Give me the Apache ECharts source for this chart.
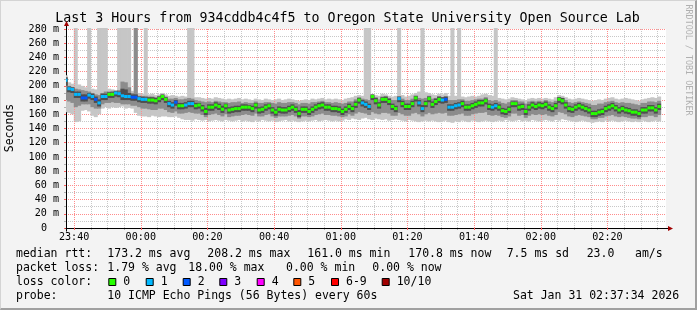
<!DOCTYPE html>
<html><head><meta charset="utf-8">
<script src="https://cdn.jsdelivr.net/npm/echarts@6/dist/echarts.min.js"></script>
<style>
html,body{margin:0;padding:0;background:#f3f3f3;}
#wrap{position:relative;width:697px;height:310px;}
#c{position:absolute;left:0;top:0;width:697px;height:310px;}
#bd{position:absolute;left:0;top:0;width:697px;height:310px;box-sizing:border-box;border-top:1px solid #d4d4d4;border-left:1px solid #d4d4d4;border-right:2px solid #a0a0a0;border-bottom:2px solid #a0a0a0;pointer-events:none;}
</style></head><body><div id="wrap"><div id="c"></div><div id="bd"></div></div>
<script>
// ---- time frame ----
const startTime = new Date(2026,0,30,23,37,34).getTime();
const endTime   = new Date(2026,0,31,2,37,34).getTime();
const firstStepEnd = new Date(2026,0,30,23,38,0).getTime();
const STEP = 60000;
// x tick labels (every 20 min)
const xTickLabels = ['23:40','00:00','00:20','00:40','01:00','01:20','01:40','02:00','02:20'];

// ---- median rtt (ms) per 60 s step ----
const median = [208,196,195,188,188,183,183,187,185,181,
176,185,185,188,188,190,189,186,185,185,
184,184,182,181,181,180,180,179,182,185,
181,175,173,177,172,172,173,175,175,172,
173,169,164,170,170,173,171,167,172,166,
167,168,168,170,170,170,168,173,166,167,
170,172,166,163,167,166,166,168,170,167,
161,167,167,164,167,170,172,173,170,170,
168,168,167,164,167,171,168,174,180,176,
174,171,185,179,173,181,181,178,171,168,
182,175,171,171,175,183,176,168,175,182,
174,178,181,180,181,170,170,172,173,175,
170,170,172,174,176,176,179,171,170,172,
170,165,164,167,175,175,170,171,164,170,
173,171,173,172,174,170,168,172,181,179,
173,168,167,170,172,170,168,166,161,161,
163,164,168,170,172,169,166,168,166,165,
163,163,161,166,166,169,169,166,171];

// ---- lost pings (of 10) per step ----
const loss = [1,1,1,1,1,2,2,1,1,2,
1,1,1,0,0,1,1,1,1,1,
2,2,1,1,1,0,0,0,0,0,
0,1,1,2,0,0,1,1,1,0,
0,0,0,0,0,0,0,0,0,0,
0,0,0,0,0,0,0,0,0,0,
0,0,0,0,0,0,0,0,0,0,
0,0,0,0,0,0,0,0,0,0,
0,0,0,0,0,0,0,0,0,1,
1,1,0,0,0,0,0,0,0,0,
1,0,0,0,0,0,1,1,0,0,
0,0,0,1,2,1,1,1,1,0,
0,0,0,0,0,0,0,0,1,1,
0,0,0,0,0,0,0,0,0,0,
0,0,0,0,0,0,0,0,0,0,
0,0,0,0,0,0,0,0,0,0,
0,0,0,0,0,0,0,0,0,0,
0,0,0,0,0,0,0,0,0];

// ---- smoke: outer band (min .. max ping) ----
const smokeOuterLo = [163,162,160,149,150,165,166,164,158,156,
160,168,170,168,170,169,170,171,168,169,
168,162,158,157,157,156,158,157,156,157,
157,156,156,157,155,153,152,152,151,153,
152,151,152,150,151,152,151,150,152,151,
150,151,152,150,151,150,149,151,150,152,
151,150,151,149,150,151,152,150,151,150,
149,150,151,150,151,152,150,151,152,151,
150,151,150,151,153,152,154,153,152,154,
155,153,152,154,153,152,153,151,152,153,
152,151,150,152,151,150,149,150,151,150,
151,150,149,150,151,149,148,150,149,151,
150,149,151,150,149,150,151,150,149,150,
151,150,152,151,150,151,152,150,151,150,
152,151,150,151,152,151,150,152,151,153,
152,151,150,149,150,151,150,149,148,149,
150,149,151,150,151,150,149,150,151,150,
149,150,149,151,150,149,150,151,150];
const smokeOuterHi = [215,205,203,300,202,200,198,300,196,195,
300,300,300,196,195,194,300,300,300,300,
193,300,190,189,300,188,189,187,188,190,
188,186,187,186,185,186,185,300,300,184,
184,183,182,183,182,184,183,182,181,182,
181,182,183,181,182,181,180,182,181,180,
182,181,180,181,182,180,181,182,181,180,
179,180,181,180,182,181,182,183,181,182,
181,182,181,180,182,183,184,186,187,186,
300,300,188,187,186,189,188,186,185,186,
300,187,185,186,188,190,192,300,191,190,
188,187,189,188,190,186,300,186,300,185,
184,185,186,185,186,188,189,187,186,300,
183,182,181,182,184,183,182,181,180,182,
183,182,183,182,183,182,181,184,187,186,
184,182,181,182,183,182,181,180,179,180,
181,180,182,183,184,182,181,182,183,182,
181,180,179,181,182,183,184,183,185];
// ---- smoke: middle band ----
const smokeMidLo = [180,178,176,170,172,174,174,174,170,168,
168,174,176,176,177,176,176,174,174,174,
172,172,170,168,168,167,166,166,168,168,
166,163,162,164,161,161,162,163,162,161,
161,159,156,159,160,161,159,157,160,156,
157,158,158,159,160,159,158,161,157,157,
159,160,157,155,157,157,157,158,159,157,
154,157,157,156,157,159,160,161,159,159,
158,158,157,156,157,160,158,161,163,162,
161,159,163,161,160,162,162,161,158,158,
162,160,158,158,161,162,160,157,160,162,
160,161,162,161,162,158,158,159,160,161,
158,158,160,161,162,162,163,159,158,159,
158,156,155,157,161,161,158,159,155,158,
160,159,160,159,160,158,157,159,163,162,
160,157,156,158,159,158,157,156,153,153,
155,155,157,158,159,157,156,157,156,155,
154,154,153,156,156,158,158,156,159];
const smokeMidHi = [210,200,198,196,195,194,193,192,190,188,
187,190,192,192,193,192,194,206,205,198,
190,300,186,185,186,185,185,184,186,187,
185,182,182,183,181,181,182,183,182,180,
179,178,177,178,177,179,178,177,177,176,
177,177,178,176,177,176,176,178,176,176,
177,177,176,175,177,176,176,177,177,176,
174,176,176,175,177,177,178,179,177,177,
176,177,176,175,176,178,178,181,184,182,
181,180,186,184,181,185,185,183,180,180,
185,182,180,180,182,186,183,182,183,186,
182,183,185,184,185,180,180,180,181,181,
179,179,180,181,182,182,184,180,179,180,
178,176,175,177,180,180,178,178,175,178,
179,178,179,178,180,178,177,179,184,183,
180,177,176,177,178,177,176,175,173,173,
175,175,177,178,179,177,176,177,176,176,
175,174,173,176,176,178,178,177,179];
// ---- smoke: inner band ----
const smokeInLo = [200,191,190,183,183,178,178,182,180,176,
171,180,180,183,183,185,184,180,180,180,
179,179,177,176,176,175,175,174,177,180,
176,170,168,172,167,167,168,170,170,167,
168,164,159,165,165,168,166,162,167,161,
162,163,163,165,165,165,163,168,161,162,
165,167,161,158,162,161,161,163,165,162,
156,162,162,159,162,165,167,168,165,165,
163,163,162,159,162,166,163,169,175,171,
169,166,180,174,168,176,176,173,166,163,
177,170,166,166,170,178,171,163,170,177,
169,173,176,175,176,165,165,167,168,170,
165,165,167,169,171,171,174,166,165,167,
165,160,159,162,170,170,165,166,159,165,
168,166,168,167,169,165,163,167,176,174,
168,163,162,165,167,165,163,161,156,156,
158,159,163,165,167,164,161,163,161,160,
158,158,156,161,161,164,164,161,166];
const smokeInHi = [212,199,198,192,192,188,188,190,189,185,
181,189,189,191,191,193,192,196,195,190,
188,188,185,185,184,184,184,183,185,188,
184,179,177,180,176,176,177,179,179,176,
176,173,169,174,174,177,175,172,175,170,
171,172,172,174,174,173,172,176,170,171,
174,175,170,167,171,170,170,172,174,171,
166,171,171,168,171,174,176,177,174,174,
172,172,171,168,171,175,172,178,183,180,
178,175,188,183,177,184,185,182,175,172,
185,179,175,175,179,186,180,173,179,185,
178,182,185,184,185,174,174,176,177,179,
174,174,176,178,180,180,182,175,174,176,
174,169,168,171,178,178,174,175,168,174,
177,175,177,176,178,174,172,176,184,183,
177,172,171,174,176,174,172,170,165,165,
167,168,172,174,176,173,170,172,170,169,
167,167,165,170,170,173,173,170,175];

// ---- legend / text ----
const lossLabels = ['0','1','2','3','4','5','6-9','10/10'];
const lossColors = ['#26ff00','#00b8ff','#0059ff','#7e00ff','#ff00ff','#ff5500','#ff0000','#a10000'];
const rttStats = ['173.2 ms avg','208.2 ms max','161.0 ms min','170.8 ms now','7.5 ms sd','23.0','am/s'];
const lossStats = ['1.79 % avg','18.00 % max','0.00 % min','0.00 % now'];
const titleText = 'Last 3 Hours from 934cddb4c4f5 to Oregon State University Open Source Lab';
const probeText = '10 ICMP Echo Pings (56 Bytes) every 60s';
const dateText = 'Sat Jan 31 02:37:34 2026';

const FONT = '"DejaVu Sans Mono", monospace';
const stepTimes = median.map((_, j) => firstStepEnd + j * STEP);
function lossIdx(l){ return l >= 10 ? 7 : (l >= 6 ? 6 : l); }

// tick positions from the tick labels
function labelToTime(s){
  const h = +s.slice(0,2), m = +s.slice(3,5);
  return h >= 12 ? new Date(2026,0,30,h,m,0).getTime() : new Date(2026,0,31,h,m,0).getTime();
}
const majorTicks = xTickLabels.map(labelToTime);
const minorTicks = [];
for (let t = majorTicks[0] - 20*60000; t < endTime; t += 5*60000) {
  if (t > startTime && majorTicks.indexOf(t) < 0) minorTicks.push(t);
}

const chart = echarts.init(document.getElementById('c'), null, {renderer:'canvas'});
function band(lo, hi){ return stepTimes.map((t, j) => [t, lo[j], hi[j]]); }
function bandRender(color){
  return function(params, api){
    const t = api.value(0), lo = api.value(1), hi = api.value(2);
    const p0 = api.coord([t - STEP, hi]);
    const p1 = api.coord([t, lo]);
    const cs = params.coordSys;
    const r = echarts.graphic.clipRectByRect(
      {x:p0[0]-0.35, y:p0[1], width:p1[0]-p0[0]+0.7, height:p1[1]-p0[1]},
      {x:cs.x, y:cs.y-1, width:cs.width, height:cs.height+1});
    if (!r) return;
    return {type:'rect', shape:r, style:{fill:color}};
  };
}
function medRender(params, api){
  const t = api.value(0), m = api.value(1), l = api.value(2);
  const p0 = api.coord([t - STEP, m]);
  const p1 = api.coord([t, m]);
  const cs = params.coordSys;
  const r = echarts.graphic.clipRectByRect(
    {x:p0[0], y:p0[1]-1.5, width:p1[0]-p0[0], height:3},
    {x:cs.x, y:cs.y, width:cs.width, height:cs.height});
  if (!r) return;
  return {type:'rect', shape:r, style:{fill:lossColors[lossIdx(l)]}};
}

function text(x, y, s, size){
  return {type:'text', x:x, y:y, silent:true,
    style:{text:s, font:size+'px '+FONT, fill:'#000', textAlign:'left', textVerticalAlign:'middle'}};
}

const legendFont = 11.5;
const rttX = [107.3,207.3,307.3,408.3,506.7,586.7,635];
const lossX = [107.3,188.3,286,372.3];
const boxX = [108.3,145.7,182.7,219.3,256.7,293.3,331,381.7];
const graphics = [];
graphics.push({type:'text', x:347.5, y:19, silent:true,
  style:{text:titleText, font:'13.3px '+FONT, fill:'#000', textAlign:'center', textVerticalAlign:'middle'}});
graphics.push({type:'text', x:10, y:128, rotation:Math.PI/2, silent:true,
  style:{text:'Seconds', font:legendFont+'px '+FONT, fill:'#000', textAlign:'center', textVerticalAlign:'middle'}});
graphics.push({type:'text', x:688.5, y:60, rotation:-Math.PI/2, silent:true,
  style:{text:'RRDTOOL / TOBI OETIKER', font:'8.4px '+FONT, fill:'#b0b0b0', textAlign:'center', textVerticalAlign:'middle'}});
graphics.push(text(16, 254, 'median rtt:', legendFont));
rttStats.forEach((s,i)=>graphics.push(text(rttX[i], 254, s, legendFont)));
graphics.push(text(16, 268, 'packet loss:', legendFont));
lossStats.forEach((s,i)=>graphics.push(text(lossX[i], 268, s, legendFont)));
graphics.push(text(16, 282.5, 'loss color:', legendFont));
lossLabels.forEach((s,i)=>{
  graphics.push({type:'rect', silent:true, shape:{x:boxX[i]+0.5, y:278.5, width:7, height:7},
    style:{fill:lossColors[i], stroke:'#000', lineWidth:1}});
  graphics.push(text(boxX[i]+15, 282.5, s, legendFont));
});
graphics.push(text(16, 296, 'probe:', legendFont));
graphics.push(text(107.3, 296, probeText, legendFont));
graphics.push(text(513, 296, dateText, legendFont));

function pad(n){ return (n<10?'0':'')+n; }

chart.setOption({
  animation:false,
  backgroundColor:'#f3f3f3',
  grid:{left:66, top:29, width:600, height:199, backgroundColor:'#ffffff', show:true, borderWidth:0},
  xAxis:[{
    type:'value', min:startTime, max:endTime, position:'bottom',
    axisLine:{show:true, lineStyle:{color:'#000', width:1}},
    axisTick:{show:true, length:2, customValues:majorTicks, lineStyle:{color:'#ff6060'}},
    splitLine:{show:true, lineStyle:{color:'#ff8c8c', width:1, type:[1,1]}},
    axisLabel:{color:'#000', fontFamily:FONT, fontSize:10.1, margin:4, hideOverlap:false,
      customValues:majorTicks,
      formatter:function(v){ const d=new Date(v); return pad(d.getHours())+':'+pad(d.getMinutes()); }},
    z:3
  },{
    type:'value', min:startTime, max:endTime, position:'bottom',
    axisLine:{show:false},
    axisTick:{show:true, length:2, customValues:minorTicks, lineStyle:{color:'#b0b0b0'}},
    splitLine:{show:true, lineStyle:{color:'#c8c8c8', width:1, type:[1,1]}},
    axisLabel:{show:false, customValues:minorTicks},
    z:2
  }],
  yAxis:{
    type:'value', min:0, max:280, interval:20,
    axisLine:{show:true, lineStyle:{color:'#000', width:1}},
    axisTick:{show:true, length:2, lineStyle:{color:'#ff6060'}},
    minorTick:{show:true, splitNumber:2, length:2, lineStyle:{color:'#b0b0b0'}},
    splitLine:{show:true, lineStyle:{color:'#ff8c8c', width:1, type:[1,1]}},
    minorSplitLine:{show:true, lineStyle:{color:'#c8c8c8', width:1, type:[1,1]}},
    axisLabel:{color:'#000', fontFamily:FONT, fontSize:10.1, margin:7,
      formatter:function(v){ return v===0 ? '{z|0}' : v+' m'; },
      rich:{z:{fontFamily:FONT, fontSize:10.1, color:'#000', padding:[0,12,0,0]}}}
  },
  series:[
    {type:'custom', renderItem:bandRender('#c6c6c6'), data:band(smokeOuterLo, smokeOuterHi), encode:{x:0,y:[1,2]}, z:2},
    {type:'custom', renderItem:bandRender('#8c8c8c'), data:band(smokeMidLo, smokeMidHi), encode:{x:0,y:[1,2]}, z:3},
    {type:'custom', renderItem:bandRender('#4e4e4e'), data:band(smokeInLo, smokeInHi), encode:{x:0,y:[1,2]}, z:4},
    {type:'custom', renderItem:medRender, data:stepTimes.map((t,j)=>[t, median[j], loss[j]]), encode:{x:0,y:1}, z:5}
  ],
  graphic:graphics
});

// axis arrows (decoration)
const o = chart.convertToPixel({xAxisIndex:0, yAxisIndex:0}, [startTime, 280]);
const e = chart.convertToPixel({xAxisIndex:0, yAxisIndex:0}, [endTime, 0]);
const ax = Math.round(o[0]) + 0.5, ay = Math.round(e[1]) + 0.5;
chart.setOption({graphic: graphics.concat([
  {type:'line', silent:true, shape:{x1:ax, y1:o[1], x2:ax, y2:o[1]-4}, style:{stroke:'#000', lineWidth:1}},
  {type:'polygon', silent:true, shape:{points:[[ax-2.5,o[1]-3],[ax+2.5,o[1]-3],[ax,o[1]-8]]}, style:{fill:'#a00000'}},
  {type:'line', silent:true, shape:{x1:e[0], y1:ay, x2:e[0]+3, y2:ay}, style:{stroke:'#000', lineWidth:1}},
  {type:'polygon', silent:true, shape:{points:[[e[0]+2,ay-2.5],[e[0]+2,ay+2.5],[e[0]+7,ay]]}, style:{fill:'#a00000'}},
  {type:'line', silent:true, shape:{x1:ax, y1:ay, x2:ax, y2:ay+3}, style:{stroke:'#000', lineWidth:1}}
])});
</script></body></html>
